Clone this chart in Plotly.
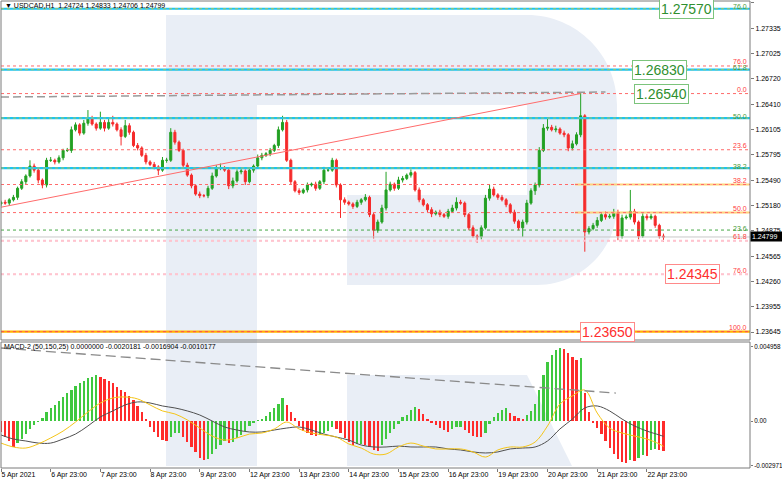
import plotly.graph_objects as go

# ---------------- data ----------------
first_open = 1.2520
closes = [
    1.2522, 1.2521, 1.2525, 1.2528, 1.2539, 1.2547, 1.2554, 1.2566, 1.2561, 1.2549,
    1.2543, 1.2573, 1.2573, 1.2571, 1.2576, 1.2585, 1.2585, 1.2610, 1.2616, 1.2606,
    1.2618, 1.2624, 1.2617, 1.2612, 1.2619, 1.2612, 1.2619, 1.2617, 1.2610, 1.2602,
    1.2615, 1.2607, 1.2591, 1.2588, 1.2579, 1.2571, 1.2568, 1.2565, 1.2561, 1.2573,
    1.2573, 1.2607, 1.2595, 1.2585, 1.2567, 1.2555, 1.2542, 1.2532, 1.2530, 1.2530,
    1.2539, 1.2554, 1.2564, 1.2564, 1.2561, 1.2542, 1.2548, 1.2559, 1.2560, 1.2547,
    1.2561, 1.2566, 1.2576, 1.2579, 1.2581, 1.2585, 1.2591, 1.2610, 1.2619, 1.2573,
    1.2547, 1.2536, 1.2534, 1.2537, 1.2543, 1.2544, 1.2539, 1.2547, 1.2561, 1.2561,
    1.2573, 1.2543, 1.2525, 1.2522, 1.2520, 1.2517, 1.2522, 1.2525, 1.2528, 1.2507,
    1.2488, 1.2498, 1.2515, 1.2537, 1.2544, 1.2539, 1.2549, 1.2551, 1.2555, 1.2558,
    1.2537, 1.2525, 1.2519, 1.2513, 1.2508, 1.2510, 1.2507, 1.2505, 1.2511, 1.2515,
    1.2522, 1.2521, 1.2507, 1.2491, 1.2481, 1.2480, 1.2491, 1.2527, 1.2538, 1.2531,
    1.2528, 1.2525, 1.2519, 1.2510, 1.2499, 1.2491, 1.2498, 1.2521, 1.2536, 1.2543,
    1.2585, 1.2612, 1.2613, 1.2610, 1.2611, 1.2606, 1.2604, 1.2588, 1.2593, 1.2604,
    1.2627, 1.2486, 1.2490, 1.2494, 1.2500, 1.2507, 1.2504, 1.2505, 1.2510, 1.2481,
    1.2503, 1.2504, 1.2511, 1.2498, 1.2481, 1.2505, 1.2503, 1.2505, 1.2494, 1.2481,
    1.24799,
]
# upper / lower shadow lengths in pips
wick_up = [
    2, 3, 2, 3, 2, 3, 2, 7, 3, 2,
    2, 3, 4, 2, 3, 2, 3, 4, 3, 2,
    4, 10, 3, 2, 13, 3, 4, 8, 2, 3,
    7, 3, 2, 3, 2, 3, 2, 3, 2, 4,
    3, 5, 3, 2, 2, 3, 2, 2, 3, 2,
    3, 4, 3, 5, 2, 2, 4, 3, 4, 2,
    3, 2, 4, 3, 2, 3, 2, 4, 8, 3,
    2, 2, 3, 2, 3, 2, 3, 2, 4, 3,
    3, 2, 2, 3, 2, 2, 3, 2, 4, 2,
    2, 3, 4, 22, 3, 2, 4, 3, 2, 4,
    2, 3, 2, 2, 3, 2, 3, 2, 3, 4,
    6, 3, 2, 2, 3, 2, 3, 4, 5, 3,
    2, 3, 2, 2, 3, 2, 3, 4, 3, 3,
    4, 5, 11, 3, 4, 2, 3, 2, 4, 3,
    28, 2, 3, 3, 4, 3, 4, 3, 4, 3,
    4, 3, 26, 3, 2, 4, 3, 3, 2, 2,
    3,
]
wick_dn = [
    3, 2, 3, 2, 3, 2, 3, 2, 3, 4,
    4, 3, 2, 3, 2, 3, 2, 3, 2, 3,
    2, 3, 2, 3, 2, 4, 2, 3, 2, 11,
    2, 3, 2, 3, 2, 3, 2, 3, 6, 2,
    3, 2, 3, 2, 3, 2, 3, 2, 3, 2,
    3, 2, 2, 3, 2, 4, 3, 2, 3, 4,
    2, 3, 2, 3, 2, 3, 2, 3, 2, 2,
    3, 2, 3, 2, 3, 2, 3, 2, 3, 2,
    2, 3, 22, 3, 2, 3, 2, 3, 2, 3,
    10, 3, 2, 3, 2, 3, 2, 3, 2, 3,
    2, 3, 2, 3, 4, 2, 3, 2, 3, 2,
    3, 2, 3, 3, 2, 7, 3, 2, 3, 2,
    3, 2, 3, 2, 3, 3, 11, 3, 2, 5,
    3, 2, 3, 2, 3, 2, 3, 4, 3, 2,
    3, 24, 3, 2, 3, 2, 3, 2, 3, 5,
    3, 2, 3, 3, 4, 2, 3, 2, 3, 3,
    6,
]
# MACD histogram, units of 1e-4
macd_hist_e4 = [
    -7.3, -10.7, -13.3, -17.3, -14.7, -12.0, -8.7, -5.3, -2.7, -0.3,
    2.0, 6.0, 8.7, 10.7, 13.3, 16.0, 18.6, 20.6, 23.3, 25.3,
    26.6, 28.6, 29.3, 30.6, 29.3, 28.0, 26.6, 25.3, 22.6, 20.6,
    19.3, 16.6, 14.0, 10.0, 6.0, 1.3, -4.0, -7.3, -10.7, -12.7,
    -13.3, -10.7, -8.0, -8.0, -10.7, -14.0, -17.3, -20.6, -24.6, -26.0,
    -25.3, -22.0, -18.6, -16.0, -13.3, -14.7, -14.0, -11.3, -9.3, -6.7,
    -3.3, -1.3, 0.3, 1.3, 3.3, 6.0, 8.7, 11.3, 15.3, 10.7,
    6.0, 2.0, -3.3, -6.7, -8.0, -9.3, -10.0, -9.3, -8.0, -6.7,
    -4.0, -5.3, -8.0, -11.3, -14.0, -16.0, -15.6, -15.3, -16.0, -17.3,
    -19.3, -20.0, -16.0, -12.0, -8.0, -5.3, -2.0, 2.7, 4.0, 7.3,
    9.3, 8.0, 4.7, 1.3, -0.7, -2.7, -4.7, -6.0, -7.3, -5.3,
    -4.0, -3.8, -6.0, -8.0, -10.0, -10.7, -10.8, -8.0, -2.0, 2.7,
    5.3, 7.3, 8.7, 5.3, 3.3, 2.0, 1.3, 4.0, 6.7, 11.3,
    20.6, 30.6, 39.3, 44.0, 47.3, 48.6, 48.0, 45.3, 42.6, 40.6,
    42.0, 18.6, 6.0, -0.7, -4.7, -8.7, -13.3, -18.0, -22.0, -25.3,
    -27.3, -28.0, -26.0, -26.5, -24.6, -22.6, -23.0, -19.3, -18.6, -19.4,
    -20.2,
]
line_hours = [0, 6, 12, 18, 24, 30, 36, 42, 48, 54, 60, 66, 72, 78, 84, 90, 96, 102,
              108, 114, 120, 126, 132, 138, 144, 150, 156, 162, 168, 174, 180, 186,
              192, 198, 204, 210, 216, 222, 228, 234, 240, 246, 252, 258, 264, 270,
              276, 282, 288, 294, 300, 306, 312, 318, 320]
macd_gray_e4 = [
    -9.3, -12.0, -13.3, -14.7, -14.7, -12.0, -8.7, -3.3, 2.7, 6.7,
    10.7, 12.7, 12.0, 10.0, 8.7, 6.7, 4.0, 0.0, -4.0, -6.0,
    -7.3, -7.3, -6.0, -4.7, -4.0, -6.0, -8.7, -10.7, -12.7, -16.0,
    -17.3, -17.3, -16.7, -17.3, -17.3, -17.3, -18.6, -19.3, -20.6, -21.3,
    -20.6, -18.6, -18.0, -17.3, -13.3, -5.3, 1.3, 8.7, 10.0, 6.7,
    1.3, -3.3, -6.7, -9.3, -10.2,
]
macd_yellow_e4 = [
    -14.7, -17.3, -18.0, -15.3, -11.3, -6.7, -0.7, 6.0, 12.0, 15.3,
    16.0, 14.7, 10.7, 6.7, 4.7, 0.7, -4.7, -10.0, -12.7, -11.3,
    -8.7, -8.0, -5.3, -0.7, -5.3, -8.0, -9.3, -10.7, -15.3, -18.0,
    -22.0, -22.0, -17.3, -14.7, -16.7, -18.6, -18.6, -18.6, -20.6, -24.0,
    -19.3, -17.3, -17.3, -14.0, -3.3, 11.3, 16.7, 20.6, 5.3, -4.7,
    -8.0, -10.0, -12.0, -15.3, -16.9,
]
day_ticks = [0, 24, 48, 72, 96, 120, 144, 168, 192, 216, 240, 264, 288, 312]
day_labels = ["5 Apr 2021", "6 Apr 23:00", "7 Apr 23:00", "8 Apr 23:00", "9 Apr 23:00",
              "12 Apr 23:00", "13 Apr 23:00", "14 Apr 23:00", "15 Apr 23:00",
              "16 Apr 23:00", "19 Apr 23:00", "20 Apr 23:00", "21 Apr 23:00",
              "22 Apr 23:00"]
price_ticks = [1.27640, 1.27335, 1.27025, 1.26720, 1.26410, 1.26105, 1.25795,
               1.25490, 1.25180, 1.24875, 1.24565, 1.24260, 1.23955, 1.23645]
macd_ticks = [0.004958, 0.0, -0.002971]
macd_tick_labels = ["0.004958", "0.00", "-0.002971"]

# analysis objects
cyan_levels = [1.27570, 1.26830, 1.26243, 1.25636]
green_fibo_prices = [1.27570, 1.26830, 1.26243, 1.25636, 1.24883]
green_fibo_names = ["76.0", "61.8", "50.0", "38.2", "23.6"]
red_fibo_prices = [1.26875, 1.26540, 1.25858, 1.25436, 1.25095, 1.24754, 1.24345, 1.23650]
red_fibo_names = ["76.0", "0.0", "23.6", "38.2", "50.0", "61.8", "76.0", "100.0"]
orange_short_levels = [1.25436, 1.25095]
pink_levels = [1.24754, 1.24345]
target_prices = [1.27570, 1.26830, 1.26540, 1.24345, 1.23650]
target_hours = [331, 318, 319, 334, 293]
target_kind = ["g", "g", "g", "r", "r"]
current_price = 1.24799
red_trend = ([0, 280], [1.2516, 1.2654])
gray_trend = ([0, 292], [1.26498, 1.26559])
macd_trend = ([0, 297], [0.00486, 0.00186])
title_text = "▼ USDCAD,H1  1.24724 1.24833 1.24706 1.24799"
macd_text = "MACD-2 (50,150,25) 0.0000000 -0.0020181 -0.0016904 -0.0010177"

# ---------------- derived series ----------------
hours = [2 * k for k in range(len(closes))]
opens = [first_open] + closes[:-1]
highs = [max(o, c) + w * 1e-4 for o, c, w in zip(opens, closes, wick_up)]
lows = [min(o, c) - w * 1e-4 for o, c, w in zip(opens, closes, wick_dn)]
macd_hist = [v * 1e-4 for v in macd_hist_e4]
macd_gray = [v * 1e-4 for v in macd_gray_e4]
macd_yellow = [v * 1e-4 for v in macd_yellow_e4]
hist_colors = ["#3fc83f" if i > 0 and macd_hist[i] >= macd_hist[i - 1] else "#ff2b2b"
               for i in range(len(macd_hist))]

# ---------------- geometry ----------------
W, H = 782, 481
ML, MR, MT, MB = 1, 32, 1, 13
PW = W - ML - MR          # 749
PH = H - MT - MB          # 467


def fx(px):
    return (px - ML) / PW


def fy(py):
    return (H - MB - py) / PH


main_dom = [fy(340), 1.0]
macd_dom = [0.0, fy(342)]
FONT = "Liberation Sans, Arial, sans-serif"

fig = go.Figure()
fig.add_trace(go.Candlestick(
    x=hours, open=opens, high=highs, low=lows, close=closes,
    increasing=dict(line=dict(color="#23a023", width=1), fillcolor="#23a023"),
    decreasing=dict(line=dict(color="#f52b2b", width=1), fillcolor="#f52b2b"),
    whiskerwidth=0, xaxis="x", yaxis="y", showlegend=False, hoverinfo="skip"))
fig.add_trace(go.Bar(x=hours, y=macd_hist, marker=dict(color=hist_colors, line=dict(width=0)),
                     width=1.1, xaxis="x2", yaxis="y2", showlegend=False, hoverinfo="skip"))
fig.add_trace(go.Scatter(x=line_hours, y=macd_gray, mode="lines", line=dict(color="#505050", width=1, shape="spline"),
                         xaxis="x2", yaxis="y2", showlegend=False, hoverinfo="skip"))
fig.add_trace(go.Scatter(x=line_hours, y=macd_yellow, mode="lines", line=dict(color="#f5c518", width=1, shape="spline"),
                         xaxis="x2", yaxis="y2", showlegend=False, hoverinfo="skip"))

shapes = []


def path_from(points):
    out = []
    for cmd, *coords in points:
        pts = " ".join("{:.5f},{:.5f}".format(fx(coords[i]), fy(coords[i + 1])) for i in range(0, len(coords), 2))
        out.append(cmd + " " + pts if pts else cmd)
    return " ".join(out)


wm_color = "#e9eef6"
logo = [("M", 166, 15), ("L", 527, 15), ("C", 576.7, 15, 617, 55.3, 617, 105), ("L", 617, 205),
        ("C", 617, 249.2, 581.2, 285, 537, 285), ("L", 347, 285), ("L", 347, 195), ("L", 527, 195),
        ("L", 527, 105), ("L", 257, 105), ("L", 257, 466), ("L", 166, 466), ("Z",)]
leg = [("M", 347, 375), ("L", 527, 375), ("L", 572, 466), ("L", 347, 466), ("Z",)]
for pth in (logo, leg):
    shapes.append(dict(type="path", xref="paper", yref="paper", path=path_from(pth),
                       fillcolor=wm_color, line=dict(width=0), layer="below"))

# horizontal levels
for p in red_fibo_prices:
    shapes.append(dict(type="line", xref="paper", yref="y", x0=0, x1=1, y0=p, y1=p,
                       line=dict(color="#ff6a6a", width=1, dash="dot")))
for p in cyan_levels:
    shapes.append(dict(type="line", xref="paper", yref="y", x0=0, x1=1, y0=p, y1=p,
                       line=dict(color="#1ec3f0", width=2.2)))
    shapes.append(dict(type="line", xref="paper", yref="y", x0=0, x1=1, y0=p, y1=p,
                       line=dict(color="#a7c95a", width=1, dash="dot")))
shapes.append(dict(type="line", xref="paper", yref="y", x0=0, x1=1, y0=green_fibo_prices[4],
                   y1=green_fibo_prices[4], line=dict(color="#45a845", width=1, dash="dot")))
for p in orange_short_levels:
    shapes.append(dict(type="line", xref="paper", yref="y", x0=fx(575), x1=1, y0=p, y1=p,
                       line=dict(color="#ffd27a", width=2)))
    shapes.append(dict(type="line", xref="paper", yref="y", x0=fx(575), x1=1, y0=p, y1=p,
                       line=dict(color="#ff6a6a", width=1, dash="dot")))
for p in pink_levels:
    shapes.append(dict(type="line", xref="paper", yref="y", x0=0, x1=1, y0=p, y1=p,
                       line=dict(color="#ffc4cf", width=2, dash="dot")))
shapes.append(dict(type="line", xref="paper", yref="y", x0=0, x1=1, y0=current_price, y1=current_price,
                   line=dict(color="#c8c8c8", width=1)))
shapes.append(dict(type="line", xref="paper", yref="y", x0=0, x1=1, y0=red_fibo_prices[-1],
                   y1=red_fibo_prices[-1], line=dict(color="#ffb000", width=2.2)))
shapes.append(dict(type="line", xref="paper", yref="y", x0=0, x1=1, y0=red_fibo_prices[-1],
                   y1=red_fibo_prices[-1], line=dict(color="#ff5050", width=1, dash="dot")))
# trend lines
shapes.append(dict(type="line", xref="x", yref="y", x0=gray_trend[0][0], x1=gray_trend[0][1],
                   y0=gray_trend[1][0], y1=gray_trend[1][1],
                   line=dict(color="#9a9a9a", width=1.5, dash="8px,4px")))
shapes.append(dict(type="line", xref="x", yref="y", x0=red_trend[0][0], x1=red_trend[0][1],
                   y0=red_trend[1][0], y1=red_trend[1][1], line=dict(color="#ff6b6b", width=1)))
shapes.append(dict(type="line", xref="x2", yref="y2", x0=macd_trend[0][0], x1=macd_trend[0][1],
                   y0=macd_trend[1][0], y1=macd_trend[1][1],
                   line=dict(color="#8a8a8a", width=1.3, dash="10px,5px")))
# frames
shapes.append(dict(type="rect", xref="paper", yref="paper", x0=0, x1=1, y0=main_dom[0], y1=1,
                   line=dict(color="#7a7a7a", width=1)))
shapes.append(dict(type="rect", xref="paper", yref="paper", x0=0, x1=1, y0=0, y1=macd_dom[1],
                   line=dict(color="#7a7a7a", width=1)))

annotations = []
for p, hh, kind in zip(target_prices, target_hours, target_kind):
    col = "#2f8f2f" if kind == "g" else "#ff2e2e"
    bcol = "#7cc47c" if kind == "g" else "#ff8a8a"
    annotations.append(dict(x=hh, y=p, xref="x", yref="y", text="{:.5f}".format(p), showarrow=False,
                            font=dict(family=FONT, size=14, color=col), bgcolor="white",
                            bordercolor=bcol, borderwidth=1, borderpad=1))
for p, n in zip(green_fibo_prices, green_fibo_names):
    annotations.append(dict(x=fx(749), y=p, xref="paper", yref="y", text=n, showarrow=False,
                            xanchor="right", yanchor="middle", yshift=2,
                            font=dict(family=FONT, size=7, color="#4a9a3a")))
for p, n in zip(red_fibo_prices, red_fibo_names):
    annotations.append(dict(x=fx(749), y=p, xref="paper", yref="y", text=n, showarrow=False,
                            xanchor="right", yanchor="middle", yshift=4,
                            font=dict(family=FONT, size=7, color="#ff4040")))
annotations.append(dict(x=1.0, y=current_price, xref="paper", yref="y", text="{:.5f}  ".format(current_price),
                        showarrow=False, xanchor="left", yanchor="middle", bgcolor="black",
                        font=dict(family=FONT, size=7, color="white"), borderpad=1))
annotations.append(dict(x=fx(3), y=fy(6), xref="paper", yref="paper", text=title_text, showarrow=False,
                        xanchor="left", yanchor="middle", font=dict(family=FONT, size=7, color="black")))
annotations.append(dict(x=fx(2), y=fy(347), xref="paper", yref="paper", text=macd_text, showarrow=False,
                        xanchor="left", yanchor="middle", font=dict(family=FONT, size=7, color="black")))

xr = [0, 361.8]
fig.update_layout(
    width=W, height=H, margin=dict(l=ML, r=MR, t=MT, b=MB, autoexpand=False),
    paper_bgcolor="white", plot_bgcolor="white", showlegend=False,
    bargap=0,
    xaxis=dict(domain=[0, 1], range=xr, anchor="y", showticklabels=False, showgrid=False,
               zeroline=False, rangeslider=dict(visible=False), fixedrange=True, automargin=False),
    yaxis=dict(domain=main_dom, range=[1.23548, 1.27664], side="right", anchor="x",
               tickvals=price_ticks, ticktext=["{:.5f}".format(v) for v in price_ticks],
               ticks="outside", ticklen=3, tickcolor="#7a7a7a", showgrid=False, zeroline=False,
               automargin=False, tickfont=dict(family=FONT, size=7, color="black")),
    xaxis2=dict(domain=[0, 1], range=xr, anchor="y2", tickvals=day_ticks, ticktext=day_labels,
                ticks="outside", ticklen=3, tickcolor="#7a7a7a", ticklabelposition="outside right",
                showgrid=False, zeroline=False, automargin=False,
                tickfont=dict(family=FONT, size=7, color="black")),
    yaxis2=dict(domain=macd_dom, range=[-0.00313, 0.005261], side="right", anchor="x2",
                tickvals=macd_ticks, ticktext=macd_tick_labels, ticks="outside", ticklen=2,
                tickcolor="#7a7a7a", showgrid=False, zeroline=False, automargin=False,
                tickfont=dict(family=FONT, size=6.3, color="black")),
    shapes=shapes, annotations=annotations,
)
fig.write_html("out.html", config={"displayModeBar": False},
               post_script="document.body.style.margin='0';document.body.style.padding='0';")
